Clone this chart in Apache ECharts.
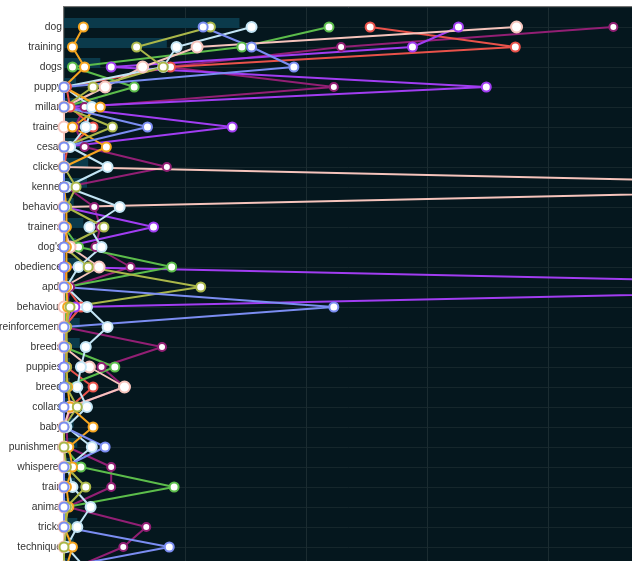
<!DOCTYPE html>
<html><head><meta charset="utf-8">
<script src="https://cdn.jsdelivr.net/npm/echarts@6/dist/echarts.min.js"></script>
<style>html,body{margin:0;padding:0;background:#fff}#c{width:632px;height:561px}</style>
</head><body><div id="c"></div>
<script>
const categories = ['dog','training','dogs','puppy','millan','trainer','cesar','clicker','kennel','behavior','trainers',"dog's",'obedience','apdt','behaviour','reinforcement','breeds','puppies','breed','collars','baby','punishment','whisperer','train','animal','tricks','technique','leash'];
const barValues = [145,85,30,10,28,15,15,20,19,8,16,10,12,8,5,13,13,5,5,5,8,11,5,9,5,11,8,5];
const sMagenta = [454,229,86,223,17,9,17,85,2,25,30,26,55,5,2,0,81,31,50,5,2,3,39,39,3,68,49,10];
const sRed     = [253,373,88,2,5,24,3,0,0,0,0,0,0,2,14,0,2,2,24,5,0,0,0,0,0,0,0,0];
const sPurple  = [326,288,39,349,0,139,0,0,0,0,74,0,0,774,9,0,0,0,0,0,0,0,0,0,0,0,0,0];
const sGreen   = [219,147,7,58,0,0,0,0,0,0,0,12,89,2,2,0,0,42,0,0,0,0,14,91,2,0,0,0];
const sPink    = [374,110,65,34,0,0,0,0,757,0,0,5,29,0,0,0,0,21,50,5,0,0,0,0,0,0,0,0];
const sLight   = [155,93,82,0,23,18,5,36,2,46,21,31,12,2,19,36,18,14,11,19,2,23,3,7,22,11,2,17];
const sOrange  = [16,7,17,0,30,7,35,0,0,2,2,2,2,2,3,2,2,2,3,5,24,4,7,2,4,0,7,2];
const sOlive   = [121,60,82,24,0,40,0,0,10,2,33,0,20,113,5,2,2,2,2,11,0,0,2,18,2,2,0,0];
const sBlue    = [115,155,190,0,0,69,0,0,0,0,0,0,0,0,223,0,0,0,0,0,0,34,0,0,0,0,87,0];

const seriesDefs = [
  {name:'magenta', color:'#921f74', data:sMagenta, size:8},
  {name:'red', color:'#e9524a', data:sRed, size:9},
  {name:'purple', color:'#a13df2', data:sPurple, size:9},
  {name:'green', color:'#5cbd4b', data:sGreen, size:9},
  {name:'pink', color:'#f6c4bc', data:sPink, size:11},
  {name:'lightblue', color:'#c3e5f5', data:sLight, size:10},
  {name:'orange', color:'#f5a51f', data:sOrange, size:9},
  {name:'olive', color:'#aab749', data:sOlive, size:9},
  {name:'blue', color:'#7b8df2', data:sBlue, size:9}
];

const yData = [''].concat(categories);
const pad = arr => [null].concat(arr);

const series = [
  {type:'bar', data:pad(barValues), barWidth:10, barGap:'-20%', itemStyle:{color:'#0b3a4b'}, silent:true, z:1},
  {type:'bar', data:pad(categories.map(()=>null)), barWidth:10, itemStyle:{color:'transparent'}, silent:true, z:1}
];
seriesDefs.forEach(s => series.push({
  type:'line', name:s.name, data:pad(s.data), symbol:'emptyCircle', symbolSize:s.size,
  lineStyle:{color:s.color, width:2}, itemStyle:{color:s.color, borderWidth:2.5}, z:3
}));

const chart = echarts.init(document.getElementById('c'), null, {renderer:'canvas'});
chart.setOption({
  animation:false,
  backgroundColor:'#ffffff',
  grid:{left:64, top:7, right:632-64-1210, bottom:-6, show:true, backgroundColor:'#05171e', borderColor:'#737373', borderWidth:2, containLabel:false, outerBoundsMode:'none'},
  xAxis:{type:'value', min:0, max:1000, interval:100, axisLabel:{show:false}, axisLine:{show:false}, axisTick:{show:false},
    splitLine:{show:true, lineStyle:{color:'#1b2c31', width:1}}},
  yAxis:{type:'category', data:yData, inverse:true, boundaryGap:false,
    axisLine:{show:false}, axisTick:{show:false},
    axisLabel:{color:'#333', fontSize:10.3, fontFamily:'Liberation Sans, Arial, sans-serif', margin:2, interval:0},
    splitLine:{show:true, lineStyle:{color:'#16272c', width:1}}},
  series
});
</script></body></html>
